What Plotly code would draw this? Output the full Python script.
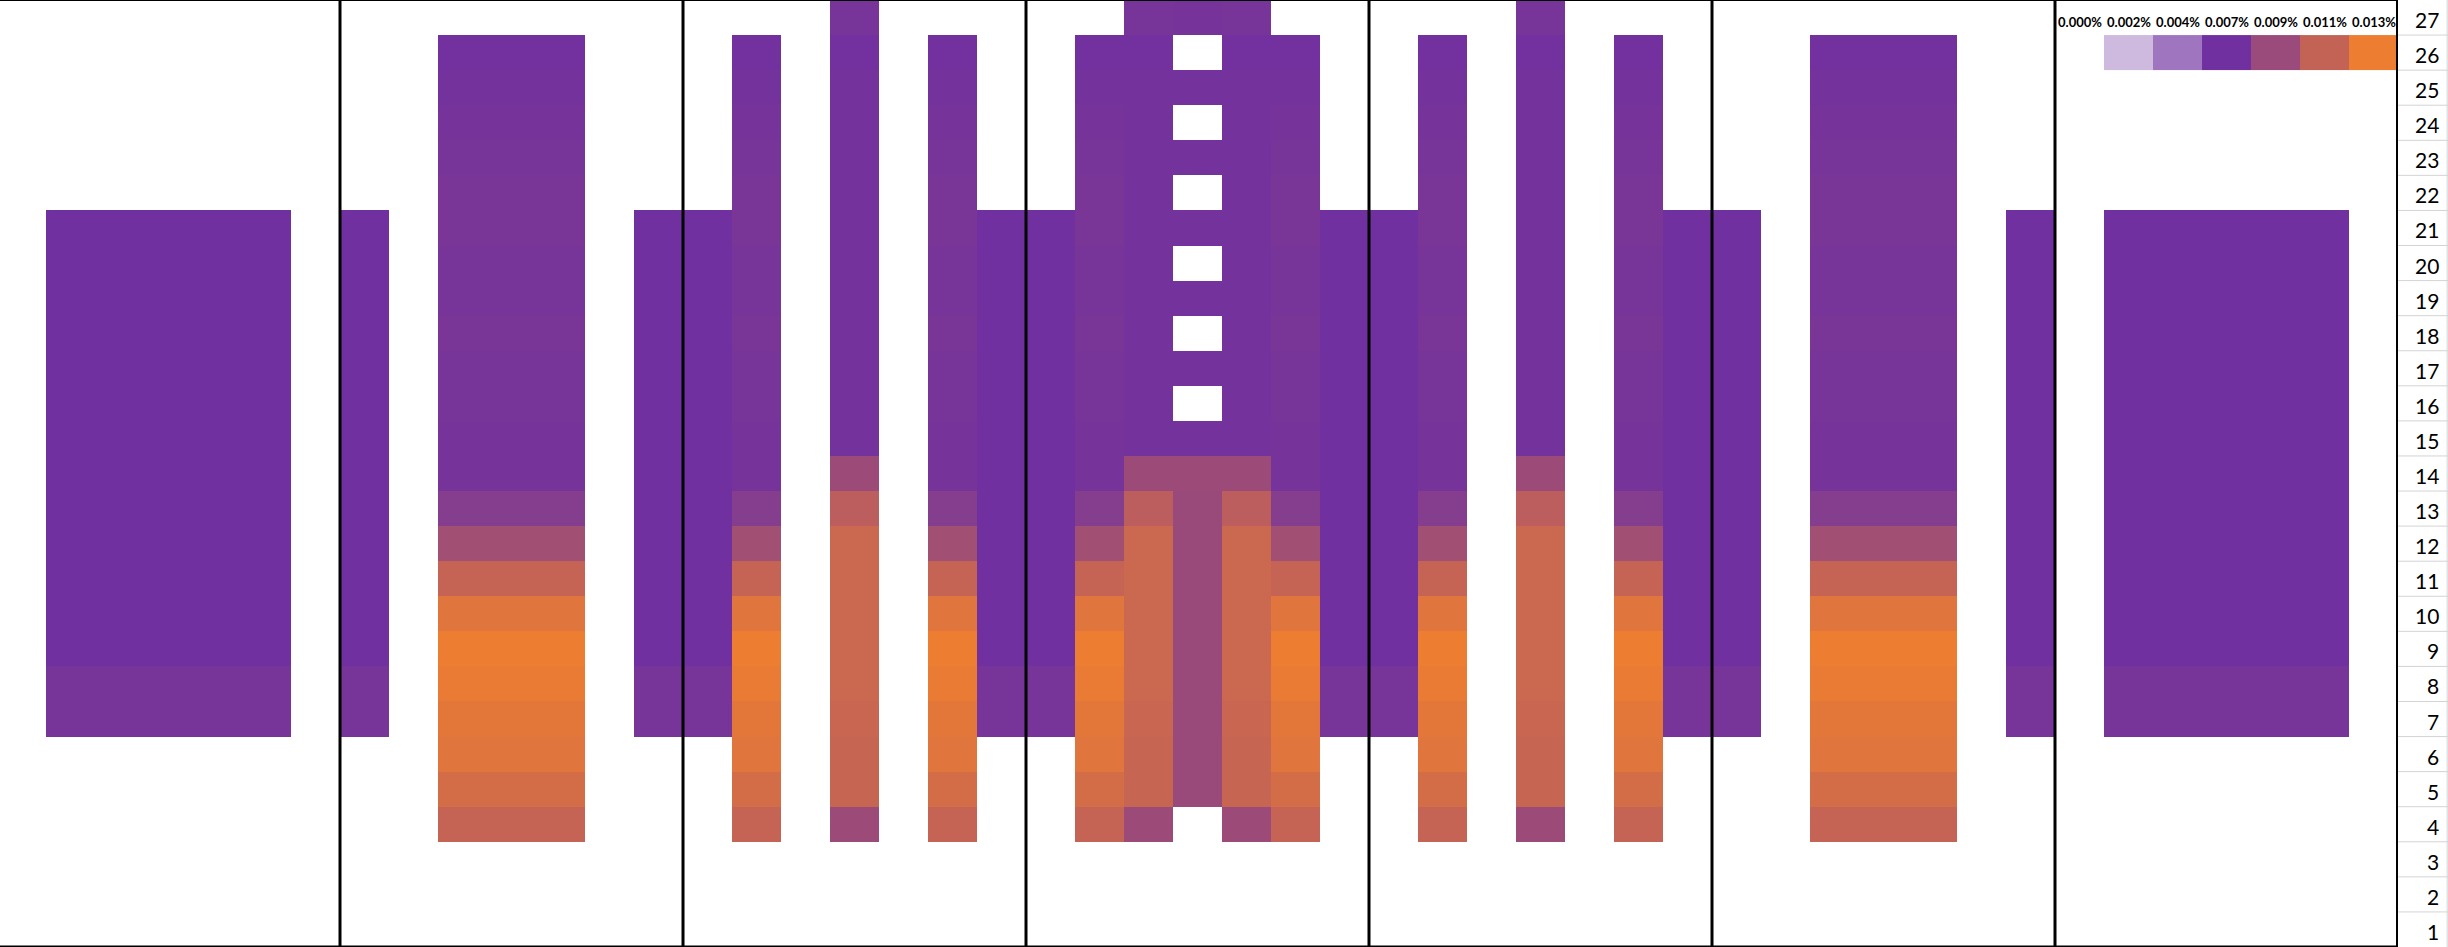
import plotly.graph_objects as go

# ---------------- data (values in %) ----------------
rows = list(range(1, 28))          # row labels 1..27 (bottom -> top)
cols = list(range(49))             # 49 cell columns, 7 panels of 7

N = None
# each profile lists rows 1..27 (bottom -> top)
blank = [N] * 27
side = [N, N, N, N, N, N,
        0.0069, 0.0069,
        0.0065, 0.0065, 0.0065, 0.0065, 0.0065, 0.0065, 0.0065,
        0.0065, 0.0065, 0.0065, 0.0065, 0.0065, 0.0065,
        N, N, N, N, N, N]
tall = [N, N, N,
        0.0109, 0.01165, 0.0123, 0.0125, 0.0128, 0.0130, 0.0123,
        0.0109, 0.0091, 0.0076, 0.0068, 0.0068, 0.0069, 0.0069,
        0.0070, 0.0069, 0.0069, 0.0070, 0.0070, 0.0069, 0.0068,
        0.0067, 0.0066, N]
inner = [N, N, N,
         0.0088, 0.0110, 0.0110, 0.0111, 0.0112, 0.0112, 0.0112,
         0.0112, 0.0112, 0.0104, 0.0088, 0.0067, 0.0067, 0.0067,
         0.0067, 0.0067, 0.0067, 0.0067, 0.0067, 0.0067, 0.0067,
         0.0067, 0.0066, 0.0069]
center = [N, N, N, N,
          0.0087, 0.0087, 0.0087, 0.0087, 0.0087, 0.0087, 0.0087,
          0.0087, 0.0087, 0.0088, 0.0067, N, 0.0067, N,
          0.0067, N, 0.0067, N, 0.0067, N, 0.0067, N, 0.0068]

profiles = {"blank": blank, "side": side, "tall": tall,
            "inner": inner, "center": center}

column_layout = [
    "blank", "side", "side", "side", "side", "side", "blank",
    "side", "blank", "tall", "tall", "tall", "blank", "side",
    "side", "tall", "blank", "inner", "blank", "tall", "side",
    "side", "tall", "inner", "center", "inner", "tall", "side",
    "side", "tall", "blank", "inner", "blank", "tall", "side",
    "side", "blank", "tall", "tall", "tall", "blank", "side",
    "blank", "side", "side", "side", "side", "side", "blank",
]

# colour key (row 26, columns 42..48) and its labels (row 27)
legend_cols = [42, 43, 44, 45, 46, 47, 48]
legend_vals = [0.0, 0.00217, 0.00433, 0.0065, 0.00867, 0.01083, 0.013]
legend_labels = ["0.000%", "0.002%", "0.004%", "0.007%", "0.009%", "0.011%", "0.013%"]
legend_row = 26
label_row = 27

panel_bounds = [6.5, 13.5, 20.5, 27.5, 34.5, 41.5]

# ---------------- build ----------------
z = [[profiles[column_layout[c]][r - 1] for c in cols] for r in rows]

fig = go.Figure()
fig.add_trace(go.Heatmap(x=cols, y=rows, z=z, coloraxis="coloraxis",
                         hoverinfo="skip"))
fig.add_trace(go.Heatmap(x=legend_cols, y=[legend_row], z=[legend_vals],
                         coloraxis="coloraxis", hoverinfo="skip"))

shapes = []
for xb in panel_bounds:
    shapes.append(dict(type="line", xref="x", yref="paper", x0=xb, x1=xb,
                       y0=0, y1=1, line=dict(color="black", width=3)))
# right thick border
shapes.append(dict(type="line", xref="x", yref="paper", x0=48.5, x1=48.5,
                   y0=0, y1=1, line=dict(color="black", width=4)))
# top / bottom borders
shapes.append(dict(type="line", xref="paper", yref="paper", x0=0, x1=1,
                   y0=1, y1=1, line=dict(color="black", width=2)))
shapes.append(dict(type="line", xref="paper", yref="paper", x0=0, x1=1,
                   y0=0, y1=0, line=dict(color="black", width=3)))
# light grid of the row-label column
for r in rows[:-1]:
    shapes.append(dict(type="line", xref="paper", yref="y", x0=1.0, x1=1.021,
                       y0=r + 0.5, y1=r + 0.5,
                       line=dict(color="#D4D4D4", width=1)))
shapes.append(dict(type="line", xref="paper", yref="paper", x0=1.0205, x1=1.0205,
                   y0=0, y1=1, line=dict(color="#D4D4D4", width=1)))

annotations = []
for r in rows:
    annotations.append(dict(x=1, xref="paper", y=r, yref="y", text=str(r),
                            showarrow=False, xanchor="right", xshift=43,
                            yshift=-2,
                            font=dict(family="Lato", size=21, color="black")))
for c, lab in zip(legend_cols, legend_labels):
    annotations.append(dict(x=c, xref="x", y=label_row, yref="y", text="<b>" + lab + "</b>",
                            showarrow=False, xanchor="center", yshift=-4,
                            font=dict(family="Lato", size=13, color="black")))

fig.update_layout(
    width=2448, height=947,
    margin=dict(l=0, r=50, t=0, b=0),
    paper_bgcolor="white", plot_bgcolor="white",
    coloraxis=dict(cmin=0, cmax=0.013, showscale=False,
                   colorscale=[[0, "#FFFFFF"], [0.5, "#7030A0"], [1, "#ED7D31"]]),
    xaxis=dict(range=[-0.439, 48.5], showgrid=False, zeroline=False,
               showticklabels=False, ticks="", fixedrange=True),
    yaxis=dict(range=[0.5, 27.5], showgrid=False, zeroline=False,
               showticklabels=False, ticks="", fixedrange=True),
    shapes=shapes, annotations=annotations, showlegend=False,
)

fig.write_html("out.html", config={"displayModeBar": False},
               post_script="document.body.style.margin='0';"
                           "document.body.style.overflow='hidden';")
